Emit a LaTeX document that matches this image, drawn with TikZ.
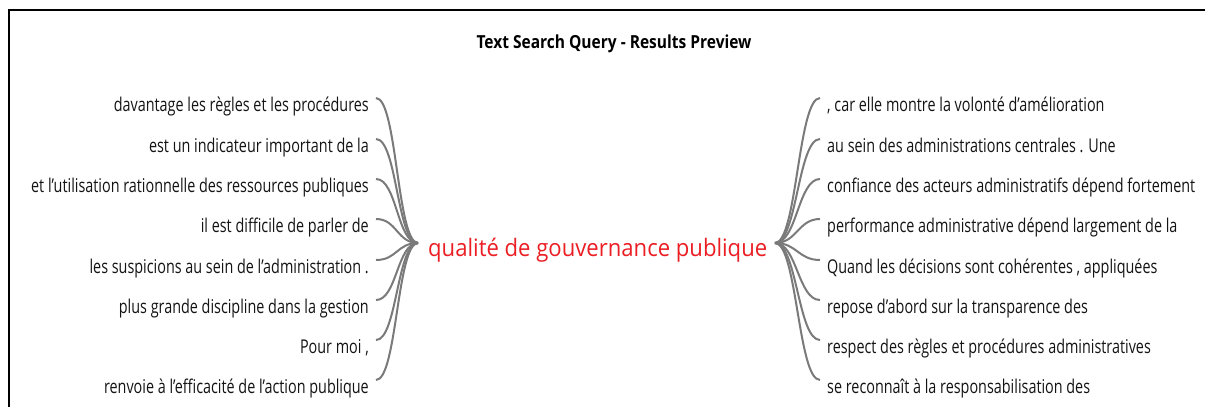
\documentclass[tikz,border=0pt]{standalone}
\usepackage{fontspec}
\setmainfont{Open Sans}
\usepackage{graphicx}
\definecolor{hubred}{RGB}{235,30,36}
\definecolor{conngray}{RGB}{122,122,122}
\newlength\mylenA
\def\LF{\fontsize{19}{21}\selectfont}
\def\CF{\fontsize{24}{26}\selectfont}
\def\TF{\fontsize{18}{20}\selectfont\bfseries}
\begin{document}
\settowidth{\mylenA}{\LF davantage les règles et les procédures}%
\pgfmathsetmacro\sxL{255/\mylenA}%
\settowidth{\mylenA}{\CF qualité de gouvernance publique}%
\pgfmathsetmacro\sxC{339/\mylenA}%
\settowidth{\mylenA}{\TF Text Search Query - Results Preview}%
\pgfmathsetmacro\sxT{275/\mylenA}%
\def\SL#1{\scalebox{\sxL}[1]{\LF #1}}%
\def\SC#1{\scalebox{\sxC}[1]{\CF #1}}%
\def\ST#1{\scalebox{\sxT}[1]{\TF #1}}%
\begin{tikzpicture}[x=1pt,y=-1pt,
  lblL/.style={inner sep=0pt, anchor=base east, text={black!92}},
  lblR/.style={inner sep=0pt, anchor=base west, text={black!92}},
  conn/.style={draw=conngray, line width=2pt},
  frame/.style={draw=black, line width=2pt}]
\useasboundingbox (0,0) rectangle (1205,407);

\draw[frame] (9,407) -- (9,10) -- (1205,10);

\node[inner sep=0pt, anchor=base] (T) at (614,48) {\ST{Text Search Query - Results Preview}};

\node[inner sep=0pt, anchor=base west, text=hubred] (C) at (428,256) {\SC{qualité de gouvernance publique}};
\coordinate (hl) at (418,243);
\coordinate (hr) at (775,243);

\node[lblL] (L1) at (369,111) {\SL{davantage les règles et les procédures}};
\node[lblL] (L2) at (369,152) {\SL{est un indicateur important de la}};
\node[lblL] (L3) at (369,192) {\SL{et l’utilisation rationnelle des ressources publiques}};
\node[lblL] (L4) at (369,232) {\SL{il est difficile de parler de}};
\node[lblL] (L5) at (369,273) {\SL{les suspicions au sein de l’administration .}};
\node[lblL] (L6) at (369,313) {\SL{plus grande discipline dans la gestion}};
\node[lblL] (L7) at (369,353) {\SL{Pour moi ,}};
\node[lblL] (L8) at (369,393) {\SL{renvoie à l’efficacité de l’action publique}};

\node[lblR] (R1) at (827,111) {\SL{, car elle montre la volonté d’amélioration}};
\node[lblR] (R2) at (827,152) {\SL{au sein des administrations centrales . Une}};
\node[lblR] (R3) at (827,192) {\SL{confiance des acteurs administratifs dépend fortement}};
\node[lblR] (R4) at (827,232) {\SL{performance administrative dépend largement de la}};
\node[lblR] (R5) at (827,273) {\SL{Quand les décisions sont cohérentes , appliquées}};
\node[lblR] (R6) at (827,313) {\SL{repose d’abord sur la transparence des}};
\node[lblR] (R7) at (827,353) {\SL{respect des règles et procédures administratives}};
\node[lblR] (R8) at (827,393) {\SL{se reconnaît à la responsabilisation des}};

\foreach \i in {1,...,8}{
  \draw[conn] ([xshift=7pt,yshift=13pt]L\i.base east) .. controls +(21,0) and +(-21,0) .. (hl);
  \draw[conn] (hr) .. controls +(22,0) and +(-22,0) .. ([xshift=-7pt,yshift=13pt]R\i.base west);
}
\end{tikzpicture}
\end{document}
